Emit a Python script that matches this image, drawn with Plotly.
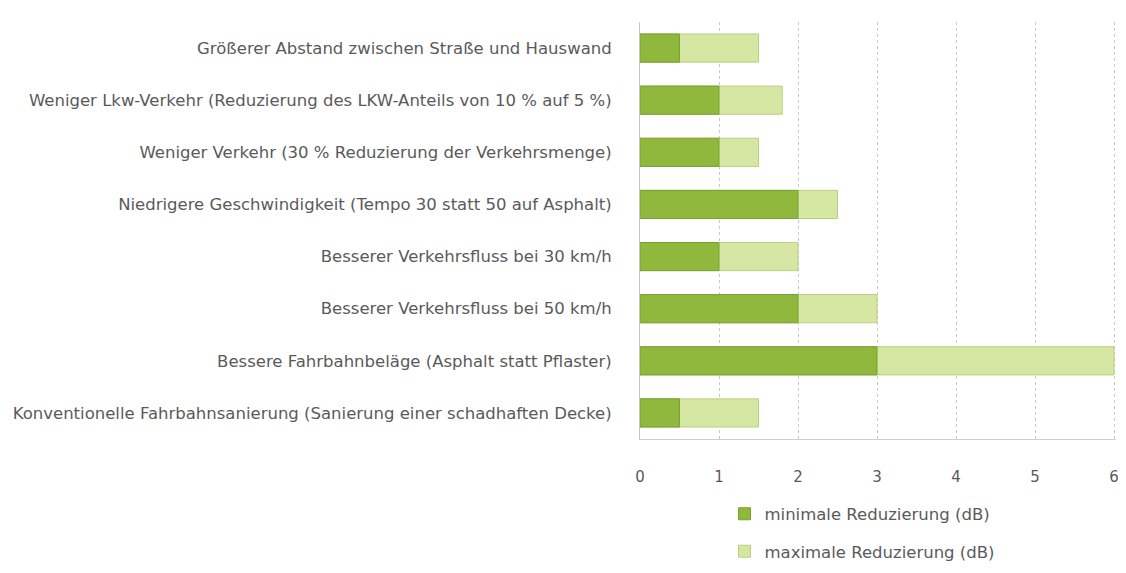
import plotly.graph_objects as go

categories = [
    "Größerer Abstand zwischen Straße und Hauswand",
    "Weniger Lkw-Verkehr (Reduzierung des LKW-Anteils von 10 % auf 5 %)",
    "Weniger Verkehr (30 % Reduzierung der Verkehrsmenge)",
    "Niedrigere Geschwindigkeit (Tempo 30 statt 50 auf Asphalt)",
    "Besserer Verkehrsfluss bei 30 km/h",
    "Besserer Verkehrsfluss bei 50 km/h",
    "Bessere Fahrbahnbeläge (Asphalt statt Pflaster)",
    "Konventionelle Fahrbahnsanierung (Sanierung einer schadhaften Decke)",
]
min_red = [0.5, 1.0, 1.0, 2.0, 1.0, 2.0, 3.0, 0.5]
max_red = [1.5, 1.8, 1.5, 2.5, 2.0, 3.0, 6.0, 1.5]
x_ticks = [0, 1, 2, 3, 4, 5, 6]

font_family = "DejaVu Sans"
text_col = "#5a5a5a"

fig = go.Figure()
fig.add_trace(go.Bar(
    y=categories, x=max_red, orientation="h", name="maximale Reduzierung (dB)",
    marker=dict(color="#d6e7a4", line=dict(color="#b9cf80", width=1)),
    legendrank=2, legendgroup="max", width=0.54,
))
fig.add_trace(go.Bar(
    y=categories, x=min_red, orientation="h", name="minimale Reduzierung (dB)",
    marker=dict(color="#8fb83c", line=dict(color="#7aa030", width=1)),
    legendrank=1, legendgroup="min", width=0.54,
))

# The page body adds an 8 px margin, so the figure is sized to fit the window.
fig.update_layout(
    width=1110, height=557,
    barmode="overlay",
    paper_bgcolor="white", plot_bgcolor="white",
    margin=dict(l=632, r=2, t=14, b=126, autoexpand=False),
    font=dict(family=font_family, size=16.5, color=text_col),
    xaxis=dict(
        range=[0, 6.025], tickvals=x_ticks, showgrid=True,
        gridcolor="#c8c8c8", griddash="dot", gridwidth=1,
        zeroline=False, showline=True, linecolor="#cfcfcf", linewidth=1,
        tickfont=dict(size=15, color=text_col), ticklabelstandoff=24,
        ticklabeloverflow="allow", automargin=False,
    ),
    yaxis=dict(
        autorange="reversed", showgrid=False, showline=True,
        linecolor="#c8c8c8", linewidth=1,
        tickfont=dict(size=16.5, color=text_col), ticklabelstandoff=24,
        automargin=False,
    ),
    legend=dict(
        x=0.1775, xanchor="left", y=-0.138, yanchor="top",
        traceorder="grouped", tracegroupgap=13,
        font=dict(size=16.5, color=text_col), bgcolor="rgba(0,0,0,0)",
    ),
    showlegend=True,
)

fig.write_html("out.html")
